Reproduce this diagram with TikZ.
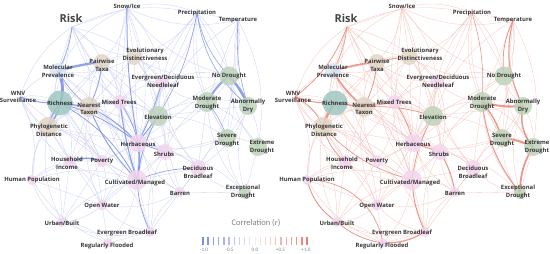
\documentclass[tikz,border=0pt]{standalone}
\usepackage{fontspec}
\setmainfont{Open Sans}
\newfontfamily\legfont{Carlito}
\pgfdeclarelayer{bg}
\pgfsetlayers{bg,main}
\definecolor{greenc}{RGB}{190,212,186}
\definecolor{tealc}{RGB}{158,200,192}
\definecolor{beigec}{RGB}{226,214,198}
\definecolor{pinkc}{RGB}{242,214,238}
\definecolor{lbluec}{RGB}{218,230,246}
\definecolor{labc}{RGB}{55,55,55}
\definecolor{riskc}{RGB}{70,70,70}
\definecolor{bthick}{RGB}{120,140,228}
\definecolor{bhaze}{RGB}{203,209,244}
\definecolor{rthick}{RGB}{232,125,115}
\definecolor{rhaze}{RGB}{246,198,192}
\definecolor{legc}{RGB}{130,130,130}
\tikzset{
 nd/.style={circle,inner sep=0pt,draw=none,fill opacity=0.85},
 lbl/.style={font=\bfseries\fontsize{5.9}{7.8}\selectfont,text=labc,align=center,inner sep=0pt},
 risklbl/.style={font=\bfseries\fontsize{11}{12}\selectfont,text=riskc,inner sep=0pt},
}
\newcommand\vx[8]{\node[nd,fill=#4,minimum size=#5] (#1) at (#2,#3) {};
 \node[lbl] (#1-t) at (#6,#7) {#8};}
\newcommand\makenodes{%
 \coordinate (Risk) at (72,27);
 \node[risklbl] (Risk-t) at (71,18) {Risk};
 \vx{Snow}{127}{8}{none}{1}{127}{6}{Snow/Ice}
 \vx{Prec}{197}{13}{none}{1}{197}{13}{Precipitation}
 \vx{Temp}{238}{20}{none}{1}{238}{20}{Temperature}
 \vx{MolP}{58}{71}{lbluec}{16}{58}{71}{Molecular\\Prevalence}
 \vx{Pair}{102}{62}{beigec}{16}{102}{65}{Pairwise\\Taxa}
 \vx{Evol}{134}{57}{beigec}{16}{145}{54}{Evolutionary\\Distinctiveness}
 \vx{EvN}{162}{82}{pinkc}{14}{163}{81}{Evergreen/Deciduous\\Needleleaf}
 \vx{NoD}{229}{76}{greenc}{19}{229}{76}{No Drought}
 \vx{ModD}{207}{102}{greenc}{20}{207}{103}{Moderate\\Drought}
 \vx{AbD}{248}{106}{greenc}{18}{248}{106}{Abnormally\\Dry}
 \vx{Elev}{158}{116}{greenc}{20}{158}{117}{Elevation}
 \vx{Mix}{120}{102}{pinkc}{14}{119}{102}{Mixed Trees}
 \vx{WNV}{20}{97}{none}{1}{18}{97}{WNV\\Surveillance}
 \vx{Rich}{60}{103}{tealc}{25}{60}{103}{Richness}
 \vx{Near}{89}{107}{beigec}{20}{89}{109}{Nearest\\Taxon}
 \vx{Phy}{48}{127}{beigec}{20}{49}{130}{Phylogenetic\\Distance}
 \vx{Herb}{138}{143}{pinkc}{18}{138}{144}{Herbaceous}
 \vx{Shr}{165}{152}{pinkc}{16}{164}{154}{Shrubs}
 \vx{HHI}{70}{162}{pinkc}{13}{67}{163}{Household\\Income}
 \vx{Pov}{102}{161}{pinkc}{12}{102}{161}{Poverty}
 \vx{HumP}{32}{180}{pinkc}{10}{32}{180}{Human Population}
 \vx{Cult}{137}{180}{pinkc}{20}{135}{183}{Cultivated/Managed}
 \vx{DecB}{198}{168}{pinkc}{16}{198}{172}{Deciduous\\Broadleaf}
 \vx{SevD}{227}{138}{greenc}{18}{227}{140}{Severe\\Drought}
 \vx{ExtD}{258}{147}{greenc}{18}{262}{147}{Extreme\\Drought}
 \vx{ExcD}{245}{193}{greenc}{12}{243}{192}{Exceptional\\Drought}
 \vx{Bar}{180}{192}{pinkc}{10}{180}{193}{Barren}
 \vx{OpW}{102}{205}{pinkc}{11}{102}{206}{Open Water}
 \vx{Urb}{62}{222}{pinkc}{10}{62}{223}{Urban/Built}
 \vx{EvB}{150}{232}{pinkc}{10}{127}{233}{Evergreen Broadleaf}
 \vx{RegF}{108}{243}{pinkc}{9}{107}{246}{Regularly Flooded}
}
\def\hazelist{Risk/MolP,Risk/Pair,Risk/WNV,Risk/Rich,Risk/Near,Risk/Mix,Risk/Snow,Risk/Prec,Risk/Evol,Risk/Phy,Risk/EvN,Risk/Elev,Risk/Herb,%
Snow/Prec,Snow/Temp,Snow/Evol,Snow/Pair,Snow/MolP,Snow/Mix,Snow/EvN,Snow/NoD,Snow/Elev,Snow/Herb,Snow/Cult,%
Prec/Temp,Prec/NoD,Prec/ModD,Prec/AbD,Prec/EvN,Prec/Elev,Prec/Mix,Prec/Evol,Prec/SevD,Prec/Herb,%
Temp/NoD,Temp/AbD,Temp/ModD,Temp/ExtD,Temp/Elev,Temp/SevD,Temp/DecB,%
MolP/WNV,MolP/Pair,MolP/Rich,MolP/Near,MolP/Phy,MolP/Mix,MolP/Evol,MolP/Herb,MolP/Cult,MolP/HHI,MolP/Pov,%
Pair/Evol,Pair/Near,Pair/Rich,Pair/Mix,Pair/EvN,Pair/Elev,Pair/Herb,Pair/Cult,Pair/Phy,%
Evol/EvN,Evol/Mix,Evol/Near,Evol/Elev,Evol/NoD,Evol/Herb,Evol/Shr,%
EvN/Mix,EvN/Elev,EvN/NoD,EvN/ModD,EvN/Herb,EvN/Shr,EvN/DecB,EvN/Cult,%
NoD/ModD,NoD/AbD,NoD/Elev,NoD/SevD,NoD/ExtD,NoD/Herb,%
ModD/AbD,ModD/Elev,ModD/SevD,ModD/ExtD,ModD/Shr,ModD/DecB,ModD/Herb,ModD/ExcD,%
AbD/SevD,AbD/ExtD,AbD/ExcD,AbD/Elev,AbD/DecB,%
Elev/Mix,Elev/Herb,Elev/Shr,Elev/Cult,Elev/DecB,Elev/SevD,Elev/Near,Elev/Bar,Elev/Pov,%
Mix/Near,Mix/Rich,Mix/Herb,Mix/Shr,Mix/Cult,Mix/Pov,Mix/Phy,Mix/HHI,%
WNV/Rich,WNV/Phy,WNV/Near,WNV/HumP,WNV/HHI,WNV/Pov,WNV/Urb,%
Rich/Near,Rich/Phy,Rich/Herb,Rich/Cult,Rich/Pov,Rich/HHI,Rich/HumP,Rich/Shr,Rich/OpW,%
Near/Phy,Near/Herb,Near/Cult,Near/Pov,Near/HHI,Near/Shr,Near/OpW,%
Phy/HHI,Phy/Pov,Phy/HumP,Phy/Herb,Phy/Cult,Phy/Urb,Phy/OpW,%
Herb/Shr,Herb/Cult,Herb/Pov,Herb/DecB,Herb/Bar,Herb/OpW,Herb/EvB,Herb/SevD,%
Shr/Cult,Shr/DecB,Shr/Bar,Shr/SevD,Shr/ExcD,Shr/EvB,Shr/OpW,%
HHI/Pov,HHI/HumP,HHI/Urb,HHI/OpW,HHI/Cult,%
Pov/Cult,Pov/OpW,Pov/HumP,Pov/Urb,Pov/EvB,%
HumP/Urb,HumP/OpW,HumP/Cult,HumP/RegF,%
Cult/DecB,Cult/Bar,Cult/OpW,Cult/EvB,Cult/RegF,Cult/Urb,%
DecB/Bar,DecB/SevD,DecB/ExcD,DecB/EvB,%
SevD/ExtD,SevD/ExcD,ExtD/ExcD,%
Bar/OpW,Bar/EvB,Bar/ExcD,%
OpW/Urb,OpW/EvB,OpW/RegF,%
Urb/RegF,Urb/EvB,EvB/RegF}
\newcommand\makehaze[1]{%
 \begin{pgfonlayer}{bg}
 \foreach \a/\b [count=\i] in \hazelist {%
  \pgfmathsetmacro\bb{18*(mod(\i,3)-1)}%
  \draw[#1,line width=0.32pt] (\a.center) to[bend left=\bb] (\b.center);
 }
 \end{pgfonlayer}}
\begin{document}
\begin{tikzpicture}[x=1pt,y=-1pt]
\useasboundingbox (0,0) rectangle (550,254);
% ---------- left graph
\begin{scope}[name prefix=L-]
 \makenodes
 \makehaze{bhaze}
 \begin{pgfonlayer}{bg}
 \foreach \a/\b/\w/\bb in {MolP/Pair/2.2/5,MolP/Rich/2.0/25,MolP/Phy/1.5/30,Rich/Phy/1.2/-10,Rich/Near/1.2/0,
   WNV/Rich/1.0/-10,Pair/Near/0.9/10,NoD/ModD/2.0/-10,NoD/AbD/2.5/10,Prec/NoD/0.6/-15,Prec/AbD/0.6/-20,
   Temp/AbD/0.6/-10,HHI/Pov/1.6/20,Herb/Cult/1.8/10,Near/Cult/1.0/-10,Rich/Herb/0.8/10,Herb/Shr/0.8/0,
   Elev/Cult/0.9/-10,Mix/Herb/0.8/10,Cult/EvB/0.8/-10,Rich/Cult/0.8/15,ModD/SevD/0.6/10,Prec/Elev/0.6/10,
   Risk/MolP/0.6/10,MolP/Near/0.7/-10,Near/Herb/0.9/10,Elev/Herb/0.8/0,Herb/Snow/1.0/5,Mix/Cult/1.2/-5,
   Herb/EvN/0.9/-5,Cult/DecB/0.7/10}
  \draw[bthick,opacity=0.8,line width=\w pt] (\a.center) to[bend left=\bb] (\b.center);
 \end{pgfonlayer}
\end{scope}
% ---------- right graph
\begin{scope}[xshift=275pt,name prefix=R-]
 \makenodes
 \makehaze{rhaze}
 \begin{pgfonlayer}{bg}
 \foreach \a/\b/\w/\bb in {MolP/Pair/1.6/5,MolP/Near/1.6/-10,Rich/Phy/2.2/-10,Rich/Near/1.2/0,WNV/Rich/1.0/-10,
   WNV/Phy/0.8/20,ModD/AbD/2.0/-10,SevD/ExtD/2.0/10,ExtD/ExcD/1.8/-15,AbD/ExtD/1.5/-25,ModD/SevD/1.4/10,
   ModD/ExcD/1.0/-15,NoD/Temp/0.8/15,Temp/AbD/1.0/-20,Herb/Shr/1.0/0,Shr/Bar/1.0/10,Cult/EvB/1.0/-10,
   EvB/RegF/1.2/15,HumP/Urb/0.8/-20,Urb/RegF/0.8/-15,Pair/Evol/1.0/5,Pair/Near/0.8/10,Near/Mix/0.8/0,
   Elev/Cult/0.8/-10,Mix/Herb/0.8/10,Phy/HHI/0.8/-15,Risk/WNV/0.8/15,Risk/MolP/0.6/10,Prec/ModD/0.6/10,
   HumP/RegF/0.7/40,Phy/Cult/0.7/-15,Near/Elev/0.8/10}
  \draw[rthick,opacity=0.8,line width=\w pt] (\a.center) to[bend left=\bb] (\b.center);
 \end{pgfonlayer}
\end{scope}
% ---------- legend
\node[font=\legfont\fontsize{8.5}{9}\selectfont,text=legc] (legtitle) at (256,223) {Correlation (\textit{r})};
\foreach \k in {0,...,20}{%
 \pgfmathsetmacro\xx{203+\k*5.2}%
 \pgfmathsetmacro\aa{abs(\k-10)/10}%
 \pgfmathtruncatemacro\pc{15+85*\aa}%
 \pgfmathsetmacro\lw{0.5+1.5*\aa}%
 \ifnum\k<10 \colorlet{barc}{bthick!\pc!white}\else\colorlet{barc}{rthick!\pc!white}\fi
 \ifnum\k=10 \colorlet{barc}{black!6}\fi
 \draw[barc,line width=\lw pt] (\xx,237) -- (\xx,245);
}
\foreach \t/\xx in {-1.0/204,-0.5/229.5,0.0/255,+0.5/280.5,+1.0/306}{%
 \node[font=\legfont\fontsize{5.2}{6}\selectfont,text=legc,inner sep=0pt] at (\xx,250) {\t};
}
\end{tikzpicture}
\end{document}
